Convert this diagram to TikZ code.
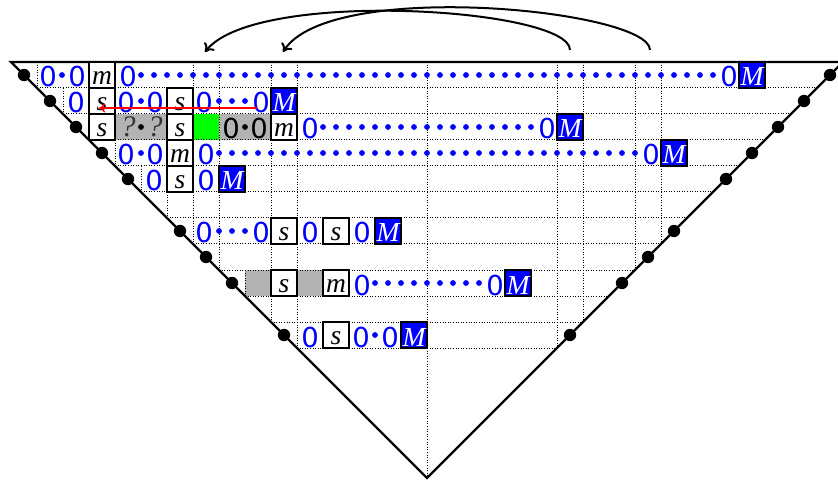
\documentclass[tikz,border=0pt]{standalone}
\usepackage{fontspec}
\setmainfont{Liberation Serif}
\newfontfamily\zerofont{DejaVu Sans}
\usetikzlibrary{arrows.meta}
\definecolor{cblue}{RGB}{0,0,255}
\definecolor{cgreen}{RGB}{0,255,0}
\definecolor{cgray}{RGB}{179,179,179}
\definecolor{qgray}{RGB}{55,55,55}
\begin{document}
\begin{tikzpicture}[x=1pt,y=-1pt,
  gridline/.style={line width=1pt, dash pattern=on 1pt off 1.6pt},
  zero/.style={font=\zerofont\fontsize{27.5}{27.5}\selectfont, text=cblue, inner sep=0pt, anchor=base},
  bzero/.style={zero, text=black},
  qmark/.style={font=\fontsize{30}{30}\selectfont\itshape, text=qgray, inner sep=0pt, anchor=base},
  cellbox/.style={draw=black, line width=2.3pt, fill=white, minimum size=26pt, inner sep=0pt,
    font=\fontsize{27.5}{27.5}\selectfont\itshape, text height=19pt, text depth=0pt},
  mbox/.style={cellbox, fill=cblue, text=white, text height=22pt},
  sidedot/.style={fill=black},
  bdot/.style={fill=cblue},
  arc/.style={line width=2pt, -{To[length=8pt,width=13pt]}},
  redarrow/.style={red, line width=1.3pt, -{To[length=6pt,width=9pt]}}
]
\useasboundingbox (0,0) rectangle (838,481);
\clip (0,0) rectangle (838,481);

% fills
\fill[cgray] (115,114) rectangle (167,140);
\fill[cgray] (219,114) rectangle (271,140);
\fill[cgreen] (193,114) rectangle (219,140);
\fill[cgray] (245,270) rectangle (271,296);
\fill[cgray] (297,270) rectangle (323,296);

% grid
\foreach \y in {88,114,...,348} \draw[gridline] ({\y-51},\y) -- ({905-\y},\y);
\foreach \x in {193,219,271,297} \draw[gridline] (\x,62) -- (\x,{\x+51});
\draw[gridline] (427,62) -- (427,478);
\foreach \x in {557,583,635,661} \draw[gridline] (\x,62) -- (\x,{905-\x});
\foreach \k in {0,...,10} \draw[gridline] ({37+26*\k},{62+26*\k}) -- ({37+26*\k},{88+26*\k});

% triangle
\draw[line width=2.4pt, line join=miter] (11,62) -- (427,478) -- (843,62) -- cycle;
\foreach \r in {0,1,2,3,4,6,7,8,10} {
  \fill[sidedot] ({24+26*\r},{75+26*\r}) circle (6.2pt);
  \fill[sidedot] ({830-26*\r},{75+26*\r}) circle (6.2pt);
}

% row 0  (baseline = row centre + 12)
\node[zero] (z0a) at (48,87) {0};
\fill[bdot] (62,75) circle (2.9pt);
\node[zero] (z0b) at (77,87) {0};
\node[cellbox] (m0) at (102,75) {m};
\node[zero] (z0c) at (128,87) {0};
\foreach \x in {141,154,...,713} \fill[bdot] (\x,75) circle (2.9pt);
\node[zero] (z0d) at (729,87) {0};
\node[mbox] (M0) at (752,75) {M};

% row 1
\node[zero] (z1a) at (76,113) {0};
\node[cellbox] (s1a) at (102,101) {s};
\node[zero] (z1b) at (126,113) {0};
\fill[bdot] (141,101) circle (2.9pt);
\node[zero] (z1c) at (155,113) {0};
\node[cellbox] (s1b) at (180,101) {s};
\node[zero] (z1d) at (204,113) {0};
\foreach \x in {219,232,245} \fill[bdot] (\x,101) circle (2.9pt);
\node[zero] (z1e) at (261,113) {0};
\node[mbox] (M1) at (284,101) {M};

% row 2
\node[cellbox] (s2a) at (102,127) {s};
\node[qmark] (q2a) at (128,137) {?};
\fill[black] (141,127) circle (2.9pt);
\node[qmark] (q2b) at (155,137) {?};
\node[cellbox] (s2b) at (180,127) {s};
\node[bzero] (z2a) at (231,139) {0};
\fill[black] (245,127) circle (2.9pt);
\node[bzero] (z2b) at (259,139) {0};
\node[cellbox] (m2) at (284,127) {m};
\node[zero] (z2c) at (310,139) {0};
\foreach \x in {323,336,...,531} \fill[bdot] (\x,127) circle (2.9pt);
\node[zero] (z2d) at (547,139) {0};
\node[mbox] (M2) at (570,127) {M};

% row 3
\node[zero] (z3a) at (126,165) {0};
\fill[bdot] (141,153) circle (2.9pt);
\node[zero] (z3b) at (155,165) {0};
\node[cellbox] (m3) at (180,153) {m};
\node[zero] (z3c) at (206,165) {0};
\foreach \x in {219,232,...,635} \fill[bdot] (\x,153) circle (2.9pt);
\node[zero] (z3d) at (651,165) {0};
\node[mbox] (M3) at (674,153) {M};

% row 4
\node[zero] (z4a) at (154,191) {0};
\node[cellbox] (s4) at (180,179) {s};
\node[zero] (z4b) at (206,191) {0};
\node[mbox] (M4) at (232,179) {M};

% row 6
\node[zero] (z6a) at (204,243) {0};
\foreach \x in {219,232,245} \fill[bdot] (\x,231) circle (2.9pt);
\node[zero] (z6b) at (261,243) {0};
\node[cellbox] (s6a) at (284,231) {s};
\node[zero] (z6c) at (310,243) {0};
\node[cellbox] (s6b) at (336,231) {s};
\node[zero] (z6d) at (362,243) {0};
\node[mbox] (M6) at (388,231) {M};

% row 8
\node[cellbox] (s8) at (284,283) {s};
\node[cellbox] (m8) at (336,283) {m};
\node[zero] (z8a) at (362,295) {0};
\foreach \x in {375,388,...,479} \fill[bdot] (\x,283) circle (2.9pt);
\node[zero] (z8b) at (495,295) {0};
\node[mbox] (M8) at (518,283) {M};

% row 10
\node[zero] (z10a) at (310,347) {0};
\node[cellbox] (s10) at (336,335) {s};
\node[zero] (z10b) at (361,347) {0};
\fill[bdot] (375,335) circle (2.9pt);
\node[zero] (z10c) at (390,347) {0};
\node[mbox] (M10) at (414,335) {M};

% arrows
\coordinate (a1s) at (570,50);
\coordinate (a1e) at (205,52);
\coordinate (a2s) at (650,50);
\coordinate (a2e) at (283,52);
\draw[arc] (a1s) .. controls (570,8) and (255,-12) .. (a1e);
\draw[arc] (a2s) .. controls (650,10) and (330,-22) .. (a2e);
\coordinate (rs) at (257,108);
\coordinate (re) at (99,108);
\draw[redarrow] (rs) -- (re);
\end{tikzpicture}
\end{document}
